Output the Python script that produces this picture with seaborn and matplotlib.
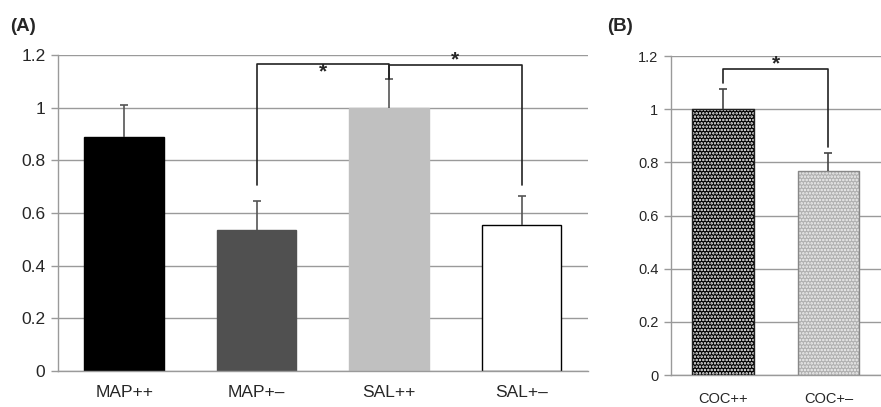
import matplotlib
matplotlib.use('Agg')
import matplotlib.pyplot as plt
import seaborn as sns
import pandas as pd

# 数据 (A)
cats_a = ['MAP++', 'MAP+\u2013', 'SAL++', 'SAL+\u2013']
vals_a = [0.89, 0.535, 1.0, 0.555]
errs_a = [0.12, 0.11, 0.11, 0.11]
colors_a = ['#000000', '#505050', '#c0c0c0', '#ffffff']

# 数据 (B)
cats_b = ['COC++', 'COC+\u2013']
vals_b = [1.0, 0.767]
errs_b = [0.075, 0.068]

# 显著性括号: (左类别, 右类别, 顶高, 左端底, 右端底, 星号高度)
brackets_a = [(1, 2, 1.167, 0.705, 1.11, 1.158), (2, 3, 1.16, 1.11, 0.705, 1.205)]
brackets_b = [(0, 1, 1.15, 1.098, 0.857, 1.195)]

sns.set_style('white')
plt.rcParams['font.family'] = ['Liberation Sans', 'DejaVu Sans']
plt.rcParams['hatch.linewidth'] = 1.2

fig = plt.figure(figsize=(8.81, 4.07), dpi=100)
ax_a = fig.add_axes([0.0658, 0.0885, 0.6015, 0.7765])
ax_b = fig.add_axes([0.7616, 0.0786, 0.2384, 0.7834])

grid_c = '#9a9a9a'


def style_axis(ax, n, xmax, tick_fs, label_fs, pad):
    ax.set_ylim(0, 1.2)
    ax.set_yticks([0, 0.2, 0.4, 0.6, 0.8, 1.0, 1.2])
    ax.set_yticklabels(['0', '0.2', '0.4', '0.6', '0.8', '1', '1.2'], fontsize=tick_fs)
    ax.yaxis.grid(True, color=grid_c, linewidth=1)
    ax.set_axisbelow(True)
    ax.set_xlim(-0.5, xmax)
    ax.set_xticks(range(n))
    ax.tick_params(axis='x', which='major', length=0, pad=pad, labelsize=label_fs)
    ax.set_xticks([i - 0.5 for i in range(n + 1)], minor=True)
    ax.tick_params(axis='x', which='minor', length=5, color=grid_c, width=1)
    ax.tick_params(axis='y', length=5, color=grid_c, width=1, left=True, pad=4)
    for s in ['top', 'right']:
        ax.spines[s].set_visible(False)
    for s in ['left', 'bottom']:
        ax.spines[s].set_color(grid_c)
        ax.spines[s].set_linewidth(1)
    ax.set_xlabel('')
    ax.set_ylabel('')


def up_errors(ax, vals, errs, color):
    _, caps, _ = ax.errorbar(range(len(vals)), vals, yerr=[[0] * len(errs), errs], fmt='none',
                             ecolor=color, elinewidth=1.2, capsize=3, capthick=1.2, zorder=3)
    caps[0].set_visible(False)


df_a = pd.DataFrame({'cat': cats_a, 'val': vals_a})
sns.barplot(data=df_a, x='cat', y='val', hue='cat', palette=colors_a, width=0.6,
            ax=ax_a, legend=False, linewidth=1, edgecolor='#000000')
for p, c in zip(ax_a.patches, colors_a):
    p.set_edgecolor('#000000' if c == '#ffffff' else c)
up_errors(ax_a, vals_a, errs_a, '#555555')
style_axis(ax_a, 4, 3.5, 12.5, 12.5, 10)

df_b = pd.DataFrame({'cat': cats_b, 'val': vals_b})
sns.barplot(data=df_b, x='cat', y='val', hue='cat', palette=['#000000', '#b0b0b0'], width=0.59,
            ax=ax_b, legend=False, linewidth=0)
for p, hc in zip(ax_b.patches, ['#ffffff', '#f2f2f2']):
    p.set_hatch('.....')
    p.set_edgecolor(hc)
    p.set_linewidth(0)
for p, ec in zip(ax_b.patches, ['#222222', '#888888']):
    x0, w, h = p.get_x(), p.get_width(), p.get_height()
    ax_b.plot([x0, x0, x0 + w, x0 + w], [0, h, h, 0], color=ec, lw=1, zorder=3)
up_errors(ax_b, vals_b, errs_b, '#444444')
style_axis(ax_b, 2, 1.375, 10.5, 10.5, 12)


def draw_bracket(ax, br):
    i, j, top, lb, rb, star_y = br
    ax.plot([i, i, j, j], [lb, top, top, rb], color='#222222', lw=1.2, zorder=4, clip_on=False)
    ax.text((i + j) / 2, star_y - 0.045, '*', ha='center', va='baseline',
            fontsize=15, fontweight='bold', clip_on=False)


for br in brackets_a:
    draw_bracket(ax_a, br)
for br in brackets_b:
    draw_bracket(ax_b, br)

fig.text(0.012, 0.935, '(A)', fontsize=13.5, fontweight='bold', va='center')
fig.text(0.689, 0.935, '(B)', fontsize=13.5, fontweight='bold', va='center')

fig.savefig('out.png', dpi=100)
